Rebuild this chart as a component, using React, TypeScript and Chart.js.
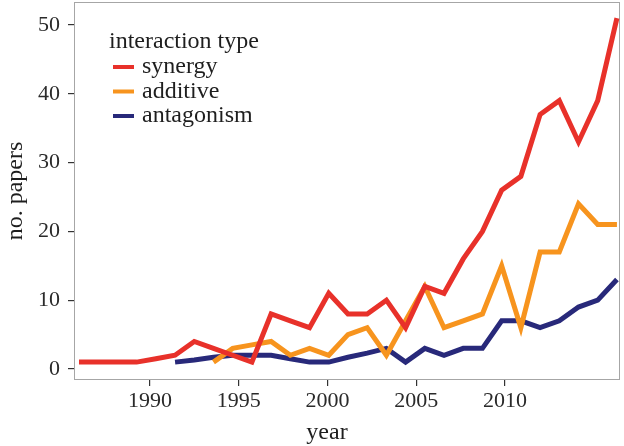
import React, { useEffect, useRef } from "react";
import { Chart, registerables } from "chart.js";

Chart.register(...registerables);

const years = [
  1986, 1987, 1988, 1989, 1990, 1991, 1992, 1993, 1994, 1995,
  1996, 1997, 1998, 1999, 2000, 2001, 2002, 2003, 2004, 2005,
  2006, 2007, 2008, 2009, 2010, 2011, 2012, 2013, 2014,
];
const synergy = [
  1, 1, 1, 1, 1.5, 2, 4, 3, 2, 1,
  8, 7, 6, 11, 8, 8, 10, 6, 12, 11,
  16, 20, 26, 28, 37, 39, 33, 39, 51,
];
const additive = [
  null, null, null, null, null, null, null, 1, 3, 3.5,
  4, 2, 3, 2, 5, 6, 2, 7, 12, 6,
  7, 8, 15, 6, 17, 17, 24, 21, 21,
];
const antagonism = [
  null, null, null, null, null, 1, 1.3, 1.7, 2, 2,
  2, 1.5, 1, 1, 1.7, 2.3, 3, 1, 3, 2,
  3, 3, 7, 7, 6, 7, 9, 10, 13,
];
const xTickYears = [1990, 1995, 2000, 2005, 2010];
const yTickValues = [0, 10, 20, 30, 40, 50];
const seriesNames = ["synergy", "additive", "antagonism"];
const seriesColors = ["#e8312a", "#f7941e", "#28297a"];
const legendTitle = "interaction type";
const xTitle = "year";
const yTitle = "no. papers";

const FONT = "'Liberation Serif', 'Times New Roman', serif";

function toPoints(vals: (number | null)[]) {
  const pts: { x: number; y: number }[] = [];
  years.forEach((yr, i) => {
    const v = vals[i];
    if (v !== null && v !== undefined) pts.push({ x: yr, y: v });
  });
  return pts;
}

const panelPlugin = {
  id: "panel",
  beforeDatasetsDraw(chart: any) {
    const { ctx, chartArea } = chart;
    ctx.save();
    ctx.strokeStyle = "#a6a6a6";
    ctx.lineWidth = 1;
    ctx.strokeRect(
      chartArea.left + 0.5,
      chartArea.top + 0.5,
      chartArea.right - chartArea.left - 1,
      chartArea.bottom - chartArea.top - 1
    );
    ctx.restore();
  },
  afterDraw(chart: any) {
    const { ctx, chartArea } = chart;
    ctx.save();
    // legend
    ctx.fillStyle = "#1e1e1e";
    ctx.font = `24px ${FONT}`;
    ctx.textBaseline = "middle";
    ctx.textAlign = "left";
    ctx.fillText(legendTitle, 109, 42);
    chart.data.datasets.forEach((ds: any, i: number) => {
      const y = 67 + i * 24.5;
      ctx.strokeStyle = ds.borderColor;
      ctx.lineWidth = 4;
      ctx.beginPath();
      ctx.moveTo(113, y);
      ctx.lineTo(134, y);
      ctx.stroke();
      ctx.fillStyle = "#1e1e1e";
      ctx.fillText(ds.label, 142, y);
    });
    // x title
    ctx.fillStyle = "#1e1e1e";
    ctx.font = `24px ${FONT}`;
    ctx.textAlign = "center";
    ctx.fillText(xTitle, (chartArea.left + chartArea.right) / 2 - 20, 433);
    ctx.restore();
  },
};

export default function App() {
  const ref = useRef<HTMLCanvasElement>(null);
  useEffect(() => {
    const data = [synergy, additive, antagonism];
    const chart = new Chart(ref.current!, {
      type: "line",
      data: {
        datasets: seriesNames.map((name, i) => ({
          label: name,
          data: toPoints(data[i]),
          borderColor: seriesColors[i],
          backgroundColor: seriesColors[i],
          borderWidth: 5,
          pointRadius: 0,
          tension: 0,
          xAxisID: "x",
          yAxisID: "y",
        })),
      },
      options: {
        animation: false,
        responsive: false,
        maintainAspectRatio: false,
        layout: { padding: { top: 2, right: 4, left: 0, bottom: 0 } },
        plugins: {
          legend: { display: false },
          tooltip: { enabled: false },
        },
        scales: {
          x: {
            type: "linear",
            display: false,
            min: 1985.74,
            max: 2014.16,
          },
          xt: {
            type: "linear",
            position: "bottom",
            min: 1985.72,
            max: 2016.48,
            afterBuildTicks: (scale: any) => {
              scale.ticks = xTickYears.map((v) => ({ value: v }));
            },
            afterFit: (scale: any) => {
              scale.height = 66;
              scale.paddingLeft = 0;
              scale.paddingRight = 0;
            },
            grid: {
              drawOnChartArea: false,
              drawTicks: true,
              tickLength: 6,
              tickColor: "#333333",
              lineWidth: 1.2,
            },
            border: { display: false },
            ticks: {
              color: "#2a2a2a",
              font: { family: FONT, size: 22 },
              padding: 2,
              maxRotation: 0,
              callback: (v: any) => String(v),
            },
          },
          y: {
            type: "linear",
            min: -1.6,
            max: 53.34,
            afterBuildTicks: (scale: any) => {
              scale.ticks = yTickValues.map((v) => ({ value: v }));
            },
            afterFit: (scale: any) => {
              scale.width = 74;
              scale.paddingTop = 0;
              scale.paddingBottom = 0;
            },
            grid: {
              drawOnChartArea: false,
              drawTicks: true,
              tickLength: 6,
              tickColor: "#333333",
              lineWidth: 1.2,
            },
            border: { display: false },
            ticks: {
              color: "#2a2a2a",
              font: { family: FONT, size: 22 },
              padding: 8,
            },
            title: {
              display: true,
              text: yTitle,
              color: "#1e1e1e",
              font: { family: FONT, size: 24, lineHeight: 1.2 },
              padding: 1,
            },
          },
        },
      },
      plugins: [panelPlugin],
    });
    return () => chart.destroy();
  }, []);
  return (
    <div style={{ position: "absolute", left: 0, top: 0, width: 624, height: 446, background: "#fff" }}>
      <canvas ref={ref} width={624} height={446} style={{ display: "block", width: 624, height: 446 }} />
    </div>
  );
}
